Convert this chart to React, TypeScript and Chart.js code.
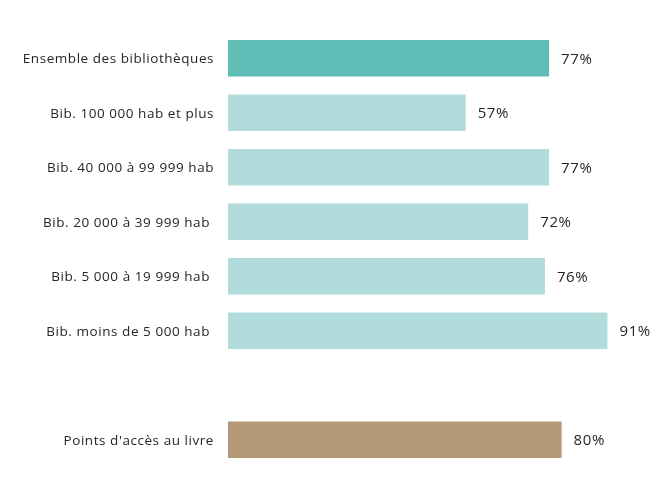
import React, { useEffect, useRef } from "react";
import { Chart, registerables } from "chart.js";

Chart.register(...registerables);

const categories: string[] = [
  "Ensemble des bibliothèques",
  "Bib. 100 000 hab et plus",
  "Bib. 40 000 à 99 999 hab",
  "Bib. 20 000 à 39 999 hab ",
  "Bib. 5 000 à 19 999 hab ",
  "Bib. moins de 5 000 hab ",
  "",
  "Points d'accès au livre",
];
const values: (number | null)[] = [77, 57, 77, 72, 76, 91, null, 80];
const barColors: string[] = [
  "#5EBDB4",
  "#B2DCDB",
  "#B2DCDB",
  "#B2DCDB",
  "#B2DCDB",
  "#B2DCDB",
  "#B2DCDB",
  "#B49977",
];

const textPlugin = {
  id: "textLabels",
  afterDatasetsDraw(chart: any) {
    const ctx = chart.ctx;
    const meta = chart.getDatasetMeta(0);
    const yScale = chart.scales.y;
    ctx.save();
    ctx.fillStyle = "#262626";
    ctx.textBaseline = "middle";
    // category labels
    ctx.font = "13.5px 'Open Sans', Lato, sans-serif";
    (ctx as any).letterSpacing = "0.55px";
    ctx.textAlign = "right";
    categories.forEach((c, i) => {
      if (!c) return;
      const y = yScale.getPixelForTick(i);
      ctx.fillText(c, chart.chartArea.left - 14, y + 1);
    });
    // value labels
    ctx.font = "15px 'Open Sans', Lato, sans-serif";
    (ctx as any).letterSpacing = "0.6px";
    ctx.textAlign = "left";
    meta.data.forEach((bar: any, i: number) => {
      const v = values[i];
      if (v == null) return;
      ctx.fillText(v + "%", bar.x + 12, bar.y + 1);
    });
    ctx.restore();
  },
};

export default function App() {
  const ref = useRef<HTMLCanvasElement | null>(null);
  useEffect(() => {
    if (!ref.current) return;
    const chart = new Chart(ref.current, {
      type: "bar",
      data: {
        labels: categories,
        datasets: [
          {
            data: values,
            backgroundColor: barColors,
            borderWidth: 0,
            barPercentage: 0.67,
            categoryPercentage: 1,
          },
        ],
      },
      options: {
        indexAxis: "y",
        animation: false,
        responsive: false,
        maintainAspectRatio: false,
        layout: { padding: { top: 31, bottom: 14, left: 0, right: 10 } },
        plugins: {
          legend: { display: false },
          tooltip: { enabled: false },
        },
        scales: {
          x: {
            display: false,
            min: 0,
            max: 100,
          },
          y: {
            border: { display: false },
            grid: { display: false, drawTicks: false },
            ticks: { display: false, padding: 0 },
            afterFit(scale: any) {
              scale.width = 228;
              scale.paddingTop = 0;
              scale.paddingBottom = 0;
            },
          },
        },
      },
      plugins: [textPlugin],
    });
    return () => chart.destroy();
  }, []);
  return (
    <div style={{ position: "absolute", left: 0, top: 0, width: 655, height: 481, background: "#fff" }}>
      <canvas ref={ref} width={655} height={481} />
    </div>
  );
}
